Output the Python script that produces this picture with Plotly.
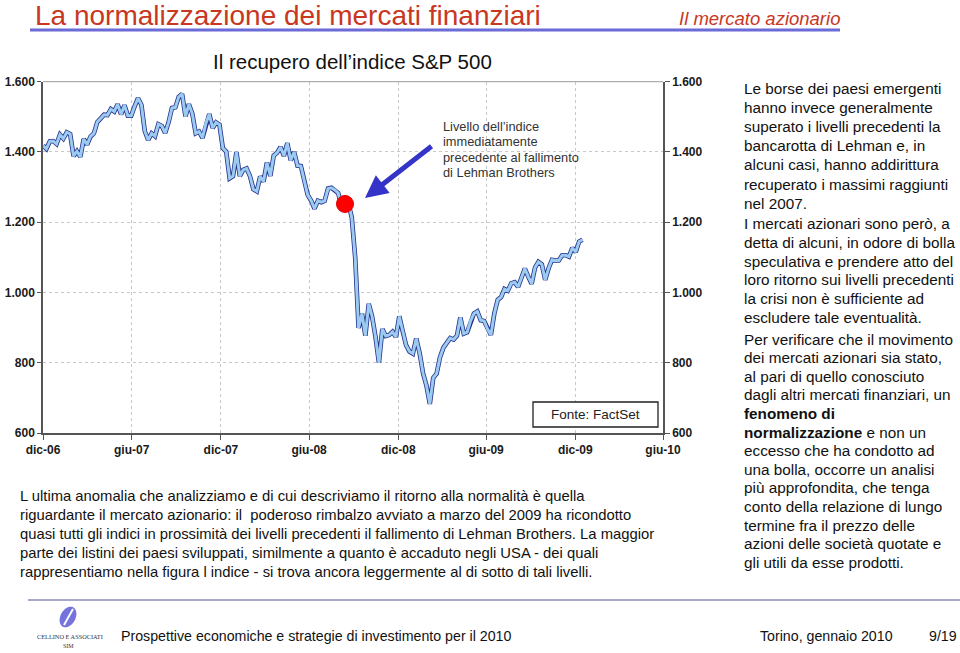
import math
import pandas as pd
import plotly.graph_objects as go

# ---------------- data ----------------
week_start = "2006-12-29"
week_end = "2010-01-15"
spx_values = [
    1418,
    # 2007
    1409, 1430, 1431, 1423, 1449, 1438, 1456, 1451, 1388, 1402, 1386, 1437, 1421,
    1444, 1453, 1485, 1495, 1506, 1505, 1522, 1515, 1536, 1507, 1533, 1503, 1503,
    1530, 1553, 1534, 1459, 1434, 1453, 1445, 1479, 1474, 1454, 1484, 1525, 1527,
    1557, 1565, 1501, 1536, 1509, 1453, 1458, 1440, 1481, 1508, 1468, 1484, 1478,
    # 2008
    1411, 1401, 1325, 1331, 1400, 1331, 1349, 1353, 1331, 1294, 1288, 1330, 1316,
    1370, 1332, 1390, 1398, 1414, 1389, 1425, 1376, 1400, 1361, 1360, 1318, 1278,
    1262, 1239, 1261, 1257, 1261, 1296, 1298, 1292, 1283, 1242, 1252, 1255, 1213,
    1100, 899, 940, 877, 968, 931, 873, 800, 896, 876, 879, 888, 873,
    # 2009
    932, 890, 850, 832, 826, 869, 827, 770, 735, 683, 757, 769, 816,
    843, 857, 870, 866, 877, 929, 883, 887, 919, 940, 946, 921, 919,
    896, 879, 940, 979, 987, 1010, 1005, 1026, 1029, 1016, 1042, 1068, 1045,
    1025, 1071, 1087, 1080, 1036, 1069, 1093, 1091, 1091, 1106, 1106, 1102, 1127,
    # 2010
    1115, 1145, 1150,
]
spx_dates = pd.date_range(week_start, week_end, freq="W-FRI")

lehman_date = ["2008-09-12"]
lehman_value = [1252]

x_tick_vals = ["2006-12-29", "2007-06-30", "2007-12-31", "2008-06-30",
               "2008-12-31", "2009-06-30", "2009-12-31", "2010-06-30"]
x_tick_text = ["dic-06", "giu-07", "dic-07", "giu-08",
               "dic-08", "giu-09", "dic-09", "giu-10"]
y_tick_vals = [600, 800, 1000, 1200, 1400, 1600]
y_tick_text = ["600", "800", "1.000", "1.200", "1.400", "1.600"]

# ---------------- page geometry ----------------
W, H = 960, 653
def px(x):
    return x / W
def py(y):
    return 1 - y / H

PL, PR, PT, PB = 43, 663, 81.7, 433
FONT = "Liberation Sans, Arial, sans-serif"
RED = "#c8371e"

fig = go.Figure()

fig.add_trace(go.Scatter(x=spx_dates, y=spx_values, mode="lines",
                         line=dict(color="#26328a", width=4.6),
                         hoverinfo="skip", showlegend=False))
fig.add_trace(go.Scatter(x=spx_dates, y=spx_values, mode="lines",
                         line=dict(color="#9ccbf2", width=3),
                         showlegend=False))
fig.add_trace(go.Scatter(x=spx_dates, y=spx_values, mode="lines", yaxis="y2",
                         line=dict(color="rgba(0,0,0,0)", width=0),
                         hoverinfo="skip", showlegend=False))
fig.add_trace(go.Scatter(x=lehman_date, y=lehman_value, mode="markers",
                         marker=dict(color="#ff0000", size=17,
                                     line=dict(color="#dd0000", width=1)),
                         showlegend=False))

fig.update_layout(
    width=W, height=H,
    margin=dict(l=0, r=0, t=0, b=0, pad=0, autoexpand=False),
    paper_bgcolor="white", plot_bgcolor="white",
    showlegend=False,
    xaxis=dict(type="date", domain=[px(PL), px(PR)],
               range=["2006-12-29", "2010-06-30"],
               tickmode="array", tickvals=x_tick_vals, ticktext=x_tick_text,
               tickfont=dict(family=FONT, size=12, color="#1a1a1a", weight="bold"),
               showline=True, linecolor="#555555", linewidth=1.5,
               ticks="outside", ticklen=5, tickcolor="#555555",
               showgrid=True, gridcolor="#c8c8c8", griddash="dot", gridwidth=1,
               zeroline=False, anchor="y", automargin=False),
    yaxis=dict(domain=[py(PB), py(PT)], range=[600, 1600],
               tickmode="array", tickvals=y_tick_vals, ticktext=y_tick_text,
               tickfont=dict(family=FONT, size=12, color="#1a1a1a", weight="bold"),
               showline=True, linecolor="#555555", linewidth=1.5,
               ticks="outside", ticklen=4, tickcolor="#555555",
               showgrid=True, gridcolor="#c8c8c8", griddash="dot", gridwidth=1,
               zeroline=False, anchor="x", automargin=False),
    yaxis2=dict(overlaying="y", side="right", range=[600, 1600],
                tickmode="array", tickvals=y_tick_vals, ticktext=y_tick_text,
                tickfont=dict(family=FONT, size=12, color="#1a1a1a", weight="bold"),
                showline=True, linecolor="#555555", linewidth=1.5,
                ticks="outside", ticklen=5, tickcolor="#555555",
                showgrid=False, zeroline=False, anchor="x", automargin=False),
)

shapes = []
# top border of plot
shapes.append(dict(type="line", xref="paper", yref="paper",
                   x0=px(PL), x1=px(PR), y0=py(PT), y1=py(PT),
                   line=dict(color="#9a9a9a", width=1)))
# header underline
shapes.append(dict(type="line", xref="paper", yref="paper",
                   x0=px(30), x1=px(840), y0=py(30), y1=py(30),
                   line=dict(color="#6a6ad8", width=3)))
# footer line
shapes.append(dict(type="line", xref="paper", yref="paper",
                   x0=px(28), x1=px(960), y0=py(600), y1=py(600),
                   line=dict(color="#a8a8c8", width=2)))
# source box
shapes.append(dict(type="rect", xref="paper", yref="paper",
                   x0=px(533), x1=px(658), y0=py(427), y1=py(402),
                   line=dict(color="#222222", width=1.3), fillcolor="white"))
# logo leaf (rotated ellipse)
cx, cy, a, b, th = 68, 617, 7.5, 11, math.radians(28)
pts = []
for k in range(41):
    t = 2 * math.pi * k / 40
    ex, ey = a * math.cos(t), b * math.sin(t)
    X = cx + ex * math.cos(th) - ey * math.sin(th)
    Y = cy + ex * math.sin(th) + ey * math.cos(th)
    pts.append(f"{px(X):.5f},{py(Y):.5f}")
shapes.append(dict(type="path", xref="paper", yref="paper",
                   path="M" + " L".join(pts) + " Z",
                   fillcolor="#7474dc", line=dict(width=0)))
shapes.append(dict(type="line", xref="paper", yref="paper",
                   x0=px(64), x1=px(73), y0=py(625), y1=py(609),
                   line=dict(color="white", width=2)))
fig.update_layout(shapes=shapes)

ann = []
def text(x, y, s, size=14, color="#000000", xanchor="left", family=FONT, **kw):
    if xanchor == "left":
        x -= 2
    elif xanchor == "right":
        x += 2
    ann.append(dict(x=px(x), y=py(y), xref="paper", yref="paper", text=s,
                    showarrow=False, xanchor=xanchor, yanchor="middle",
                    font=dict(family=family, size=size, color=color, **kw)))

text(35, 15, "La normalizzazione dei mercati finanziari", size=28, color=RED)
text(840, 18, "<i>Il mercato azionario</i>", size=18.5, color=RED, xanchor="right")
text(352, 61, "Il recupero dell’indice S&P 500", size=20.5, color="#111111", xanchor="center")

# callout text + arrow
for i, s in enumerate(["Livello dell’indice", "immediatamente",
                       "precedente al fallimento", "di Lehman Brothers"]):
    text(443, 126.5 + i * 15.3, s, size=12.8, color="#333333")
ann.append(dict(x=px(365), y=py(198), xref="paper", yref="paper",
                ax=68, ay=-53, axref="pixel", ayref="pixel",
                showarrow=True, arrowhead=2, arrowsize=0.9, arrowwidth=5,
                arrowcolor="#3434c8", text=""))
text(595.5, 414.5, "Fonte: FactSet", size=13.5, color="#222222", xanchor="center")

# bottom paragraph
para = ["L ultima anomalia che analizziamo e di cui descriviamo il ritorno alla normalità è quella",
        "riguardante il mercato azionario: il  poderoso rimbalzo avviato a marzo del 2009 ha ricondotto",
        "quasi tutti gli indici in prossimità dei livelli precedenti il fallimento di Lehman Brothers. La maggior",
        "parte dei listini dei paesi sviluppati, similmente a quanto è accaduto negli USA - dei quali",
        "rappresentiamo nella figura l indice - si trova ancora leggermente al di sotto di tali livelli."]
for i, s in enumerate(para):
    text(20, 496 + i * 19, s, size=14.8, color="#111111")

# right column
col1 = ["Le borse dei paesi emergenti", "hanno invece generalmente",
        "superato i livelli precedenti la", "bancarotta di Lehman e, in",
        "alcuni casi, hanno addirittura", "recuperato i massimi raggiunti", "nel 2007."]
col2 = ["I mercati azionari sono però, a", "detta di alcuni, in odore di bolla",
        "speculativa e prendere atto del", "loro ritorno sui livelli precedenti",
        "la crisi non è sufficiente ad", "escludere tale eventualità."]
col3 = ["Per verificare che il movimento", "dei mercati azionari sia stato,",
        "al pari di quello conosciuto", "dagli altri mercati finanziari, un",
        "<b>fenomeno di</b>", "<b>normalizzazione</b> e non un",
        "eccesso che ha condotto ad", "una bolla, occorre un analisi",
        "più approfondita, che tenga", "conto della relazione di lungo",
        "termine fra il prezzo delle", "azioni delle società quotate e",
        "gli utili da esse prodotti."]
for i, s in enumerate(col1):
    text(744, 88 + i * 19.2, s, size=15.3, color="#111111")
for i, s in enumerate(col2):
    text(744, 224 + i * 18.6, s, size=15.3, color="#111111")
for i, s in enumerate(col3):
    text(744, 339 + i * 18.6, s, size=15.3, color="#111111")

# footer
text(70, 636, "CELLINO E ASSOCIATI", size=6.3, color="#333333", xanchor="center",
     family="Liberation Serif, Times New Roman, serif")
text(68, 645.5, "SIM", size=6, color="#333333", xanchor="center",
     family="Liberation Serif, Times New Roman, serif")
text(121, 636, "Prospettive economiche e strategie di investimento per il 2010", size=14.2, color="#111111")
text(893, 636, "Torino, gennaio 2010", size=14.2, color="#111111", xanchor="right")
text(957, 636, "9/19", size=14.2, color="#111111", xanchor="right")

fig.update_layout(annotations=ann)
fig.write_html("out.html",
               config={"displayModeBar": False},
               post_script="document.body.style.margin='0px';"
                           "document.body.style.overflow='hidden';")
